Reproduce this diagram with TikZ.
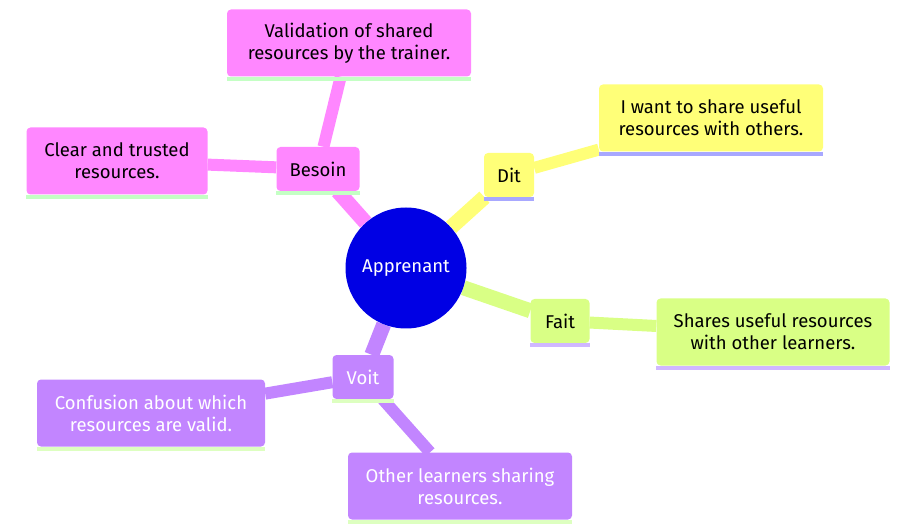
\documentclass[tikz,border=0pt]{standalone}
\usepackage{fontspec}
\setmainfont{Fira Sans}
\usetikzlibrary{backgrounds}

\definecolor{rootcol}{RGB}{0,0,228}
\definecolor{besoincol}{HTML}{FF87FF}
\definecolor{ditcol}{HTML}{FFFF78}
\definecolor{faitcol}{HTML}{D9FF85}
\definecolor{voitcol}{HTML}{C285FF}
\definecolor{besoinline}{HTML}{C4FFC4}
\definecolor{ditline}{HTML}{A8A8FF}
\definecolor{faitline}{HTML}{D0B8FF}
\definecolor{voitline}{HTML}{DDFFC0}

\begin{document}
\begin{tikzpicture}[x=1pt,y=-1pt,
  every node/.style={font=\fontsize{18.5}{22}\selectfont, align=center},
  topic/.style={rounded corners=4pt, inner sep=0pt, minimum height=44},
  leaf/.style={rounded corners=4pt, inner sep=0pt, minimum height=67},
  trunk/.style={line width=15pt},
  twig/.style={line width=12pt}]
\useasboundingbox (0,0) rectangle (923,526);

\node (apprenant) at (406,268) [circle, fill=rootcol, text=white, minimum size=121] {Apprenant};

\node (besoin)    at (318,169) [topic, fill=besoincol, minimum width=83]  {Besoin};
\node (valid)     at (349,43)  [leaf, fill=besoincol, minimum width=244]  {Validation of shared\\resources by the trainer.};
\node (clair)     at (117,161) [leaf, fill=besoincol, minimum width=181]  {Clear and trusted\\resources.};

\node (dit)       at (509,175) [topic, fill=ditcol, minimum width=50]     {Dit};
\node (partage)   at (711,118) [leaf, fill=ditcol, minimum width=224]     {I want to share useful\\resources with others.};

\node (fait)      at (560,321) [topic, fill=faitcol, minimum width=59]    {Fait};
\node (partagent) at (773,332) [leaf, fill=faitcol, minimum width=233]    {Shares useful resources\\with other learners.};

\node (voit)      at (363,377) [topic, fill=voitcol, text=white, minimum width=61]  {Voit};
\node (confusion) at (151,413) [leaf, fill=voitcol, text=white, minimum width=228] {Confusion about which\\resources are valid.};
\node (autres)    at (460,486) [leaf, fill=voitcol, text=white, minimum width=224] {Other learners sharing\\resources.};

% underlines of the boxes
\foreach \n/\c in {besoin/besoinline, valid/besoinline, clair/besoinline,
                   dit/ditline, partage/ditline,
                   fait/faitline, partagent/faitline,
                   voit/voitline, confusion/voitline, autres/voitline}
  \draw[line width=4pt, \c] ([yshift=-2pt]\n.south west) -- ([yshift=-2pt]\n.south east);

\begin{scope}[on background layer]
\draw[trunk, besoincol] (apprenant) -- (besoin);
\draw[twig, besoincol]  (besoin) -- (valid);
\draw[twig, besoincol]  (besoin) -- (clair);
\draw[trunk, ditcol]    (apprenant) -- (dit);
\draw[twig, ditcol]     (dit) -- (partage);
\draw[trunk, faitcol]   (apprenant) -- (fait);
\draw[twig, faitcol]    (fait) -- (partagent);
\draw[trunk, voitcol]   (apprenant) -- (voit);
\draw[twig, voitcol]    (voit) -- (confusion);
\draw[twig, voitcol]    (voit) -- (autres);
\end{scope}

\end{tikzpicture}
\end{document}
